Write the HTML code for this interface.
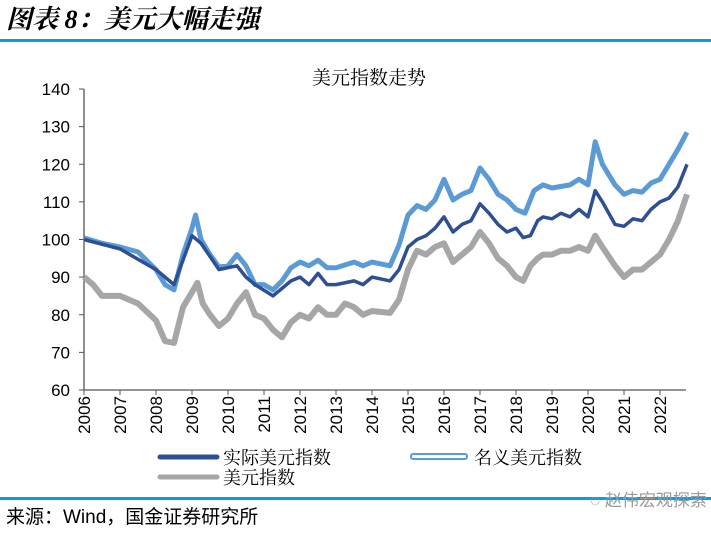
<!DOCTYPE html>
<html><head><meta charset="utf-8"><style>
body{margin:0;background:#fff;width:711px;height:530px;overflow:hidden;font-family:"Liberation Sans","Noto Sans CJK SC",sans-serif}
</style></head><body>
<svg width="711" height="530" xmlns="http://www.w3.org/2000/svg">
<text x="6" y="28" font-size="26" font-style="italic" font-weight="bold" font-family="'Liberation Serif','Noto Serif CJK SC',serif">图表 8：美元大幅走强</text>
<rect x="0" y="39" width="711" height="3" fill="#00a0e9"/>
<text x="369" y="84" font-size="19" text-anchor="middle" font-family="'Noto Serif CJK SC',serif">美元指数走势</text>
<g id="axes"></g>
<g id="series"></g>
<g>
<line x1="160" y1="457" x2="217" y2="457" stroke="#2f4f94" stroke-width="5" stroke-linecap="round"/>
<text x="223" y="464" font-size="18" font-family="'Noto Serif CJK SC',serif">实际美元指数</text>
<rect x="411" y="454" width="56" height="5" rx="2" fill="#fff" stroke="#5b9bd5" stroke-width="2"/>
<text x="474" y="464" font-size="18" font-family="'Noto Serif CJK SC',serif">名义美元指数</text>
<line x1="160" y1="477" x2="217" y2="477" stroke="#a6a6a6" stroke-width="5" stroke-linecap="round"/>
<text x="223" y="484" font-size="18" font-family="'Noto Serif CJK SC',serif">美元指数</text>
</g>
<rect x="0" y="497" width="711" height="3" fill="#00a0e9"/>
<text x="590" y="506" font-size="17" fill="#9a9a9a">◌ 赵伟宏观探索</text>
<text x="6" y="523" font-size="19">来源：Wind，国金证券研究所</text>
</svg>
<script>
const yTicks=[60,70,80,90,100,110,120,130,140];
const years=[2006,2007,2008,2009,2010,2011,2012,2013,2014,2015,2016,2017,2018,2019,2020,2021,2022];
const nomDates=[2006,2006.5,2007,2007.5,2008,2008.25,2008.5,2008.75,2009,2009.1,2009.25,2009.5,2009.75,2010,2010.25,2010.5,2010.75,2011,2011.25,2011.5,2011.75,2012,2012.25,2012.5,2012.75,2013,2013.5,2013.75,2014,2014.5,2014.75,2015,2015.25,2015.5,2015.75,2016,2016.25,2016.5,2016.75,2017,2017.25,2017.5,2017.75,2018,2018.25,2018.5,2018.75,2019,2019.5,2019.75,2020,2020.2,2020.4,2020.75,2021,2021.25,2021.5,2021.75,2022,2022.25,2022.5,2022.75];
const nomVals=[100.4,99,98,96.7,92,88,86.6,96,103,106.5,100,96,92.7,93,96,93,88,88,86.6,89,92.5,94,93,94.5,92.5,92.5,94,93,94,93,98.5,106.5,109,108,110.5,116,110.5,112,113,119,116,112,110.5,108,107,113,114.5,113.7,114.5,116,114.5,126,120,114.5,112,113,112.6,115,116,120,124,128.5];
const realDates=[2006,2007,2008,2008.5,2009,2009.25,2009.75,2010.25,2010.5,2010.75,2011.25,2011.5,2011.75,2012,2012.25,2012.5,2012.75,2013,2013.5,2013.75,2014,2014.5,2014.75,2015,2015.25,2015.5,2015.75,2016,2016.25,2016.5,2016.75,2017,2017.25,2017.5,2017.75,2018,2018.2,2018.4,2018.6,2018.75,2019,2019.25,2019.5,2019.75,2020,2020.2,2020.4,2020.75,2021,2021.25,2021.5,2021.75,2022,2022.25,2022.5,2022.75];
const realVals=[100,97.5,92,88,101,99,92,93,90,88,85,87,89,90,88,91,88,88,89,88,90,89,92,98,100,101,103,106,102,104,105,109.5,107,104,102,103,100.5,101,105,106,105.5,107,106,108,106,113,110,104,103.5,105.5,105,108,110,111,114,120];
const dxyDates=[2006,2006.25,2006.5,2007,2007.5,2008,2008.25,2008.5,2008.75,2009,2009.15,2009.3,2009.5,2009.75,2010,2010.25,2010.5,2010.75,2011,2011.25,2011.5,2011.75,2012,2012.25,2012.5,2012.75,2013,2013.25,2013.5,2013.75,2014,2014.5,2014.75,2015,2015.25,2015.5,2015.75,2016,2016.25,2016.5,2016.75,2017,2017.25,2017.5,2017.75,2018,2018.2,2018.4,2018.6,2018.75,2019,2019.25,2019.5,2019.75,2020,2020.2,2020.4,2020.75,2021,2021.25,2021.5,2021.75,2022,2022.25,2022.5,2022.75];
const dxyVals=[90,88,85,85,83,78.5,73,72.5,82,86,88.5,83,80,77,79,83,86,80,79,76,74,78,80,79,82,80,80,83,82,80,81,80.5,84,92,97,96,98,99,94,96,98,102,99,95,93,90,89,93,95,96,96,97,97,98,97,101,98,93,90,92,92,94,96,100,105,112];
const X0=84,X1=660,Y0=390,Y1=89;
const xs=t=>X0+(t-2006)*(X1-X0)/16;
const ys=v=>Y0-(v-60)*(Y0-Y1)/80;
const NS="http://www.w3.org/2000/svg";
const axes=document.getElementById('axes');
function mk(tag,attrs,parent){const e=document.createElementNS(NS,tag);for(const k in attrs)e.setAttribute(k,attrs[k]);parent.appendChild(e);return e;}
let yl=mk('line',{x1:X0,y1:Y1,x2:X0,y2:Y0,stroke:'#555','stroke-width':1.3},axes);


let xl=mk('line',{x1:X0,y1:Y0,x2:686,y2:Y0,stroke:'#555','stroke-width':1.3},axes);


yTicks.forEach(v=>{
 let t=mk('line',{x1:X0-5,y1:ys(v),x2:X0,y2:ys(v),stroke:'#555'},axes);
 
 
 let l=mk('text',{x:X0-14,y:ys(v)+6,'font-size':17,'text-anchor':'end'},axes);
 l.textContent=v;
 
 
});
years.forEach(yr=>{
 const x=xs(yr);
 let t=mk('line',{x1:x,y1:Y0,x2:x,y2:Y0+5,stroke:'#555'},axes);
 
 
 let l=mk('text',{x:0,y:0,'font-size':17,'text-anchor':'end',transform:`translate(${x+6},${Y0+6}) rotate(-90)`},axes);
 l.textContent=yr;
 
 
});
const sg=document.getElementById('series');
function draw(d,v,color,w,name){
 const pts=d.map((t,i)=>xs(t).toFixed(1)+','+ys(v[i]).toFixed(1)).join(' ');
 let p=mk('polyline',{points:pts,fill:'none',stroke:color,'stroke-width':w,'stroke-linejoin':'round'},sg);
 
 
}
draw(dxyDates,dxyVals,'#a6a6a6',6,'dxy-line');
draw(nomDates,nomVals,'#5b9bd5',5,'nominal-usd-line');
draw(realDates,realVals,'#2f4f94',3.5,'real-usd-line');
</script>
</body></html>
